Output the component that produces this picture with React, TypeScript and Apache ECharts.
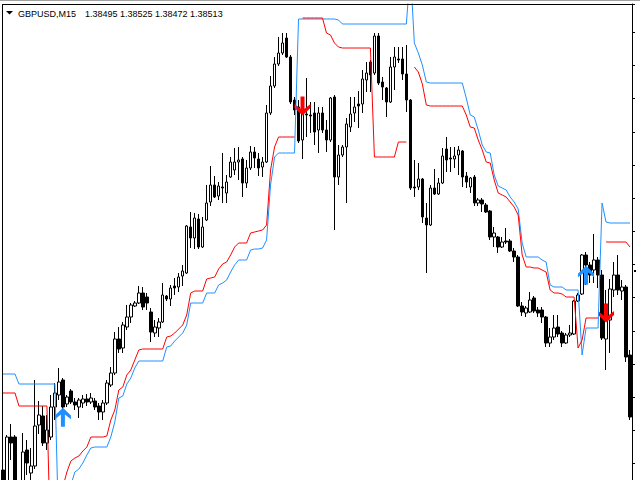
import React, { useEffect, useRef } from "react";
import * as echarts from "echarts";

// Header
const symbolName = "GBPUSD,M15";
const quote = ["1.38495", "1.38525", "1.38472", "1.38513"];

// Candles (GBPUSD M15), one per bar
const open = [
  1.37687, 1.37627, 1.37786, 1.37786, 1.37639, 1.37612, 1.37747, 1.37678, 1.37699, 1.37822,
  1.37849, 1.37768, 1.37786, 1.37876, 1.37912, 1.37957, 1.37885, 1.37924, 1.37891, 1.37876,
  1.37888, 1.37900, 1.37891, 1.37894, 1.37879, 1.37861, 1.37888, 1.37942, 1.37978, 1.38080,
  1.38053, 1.38116, 1.38146, 1.38179, 1.38188, 1.38218, 1.38206, 1.38161, 1.38098, 1.38113,
  1.38131, 1.38209, 1.38200, 1.38239, 1.38236, 1.38269, 1.38278, 1.38416, 1.38383, 1.38440,
  1.38356, 1.38437, 1.38491, 1.38542, 1.38509, 1.38536, 1.38518, 1.38566, 1.38587, 1.38611,
  1.38620, 1.38548, 1.38593, 1.38641, 1.38620, 1.38596, 1.38611, 1.38758, 1.38839, 1.38905,
  1.38938, 1.38983, 1.38926, 1.38797, 1.38776, 1.38677, 1.38755, 1.38752, 1.38758, 1.38707,
  1.38758, 1.38707, 1.38677, 1.38806, 1.38566, 1.38632, 1.38656, 1.38716, 1.38758, 1.38785,
  1.38785, 1.38857, 1.38911, 1.38878, 1.38989, 1.38851, 1.38833, 1.38791, 1.38896, 1.38920,
  1.38920, 1.38875, 1.38797, 1.38536, 1.38536, 1.38560, 1.38443, 1.38422, 1.38533, 1.38515,
  1.38548, 1.38650, 1.38623, 1.38620, 1.38632, 1.38644, 1.38569, 1.38536, 1.38566, 1.38488,
  1.38497, 1.38482, 1.38464, 1.38386, 1.38386, 1.38356, 1.38374, 1.38374, 1.38344, 1.38326,
  1.38179, 1.38158, 1.38161, 1.38203, 1.38167, 1.38167, 1.38146, 1.38068, 1.38086, 1.38116,
  1.38098, 1.38068, 1.38092, 1.38095, 1.38194, 1.38215, 1.38332, 1.38302, 1.38287, 1.38317,
  1.38272, 1.38080, 1.38137, 1.38227, 1.38272, 1.38224, 1.38236, 1.38032,
];
const close = [
  1.37627, 1.37786, 1.37768, 1.37612, 1.37621, 1.37741, 1.37708, 1.37699, 1.37819, 1.37852,
  1.37768, 1.37807, 1.37876, 1.37918, 1.37951, 1.37876, 1.37906, 1.37891, 1.37882, 1.37897,
  1.37900, 1.37891, 1.37903, 1.37876, 1.37861, 1.37888, 1.37948, 1.37978, 1.38080, 1.38050,
  1.38122, 1.38146, 1.38182, 1.38188, 1.38218, 1.38176, 1.38188, 1.38101, 1.38116, 1.38131,
  1.38212, 1.38200, 1.38233, 1.38233, 1.38266, 1.38284, 1.38419, 1.38383, 1.38443, 1.38356,
  1.38416, 1.38488, 1.38542, 1.38506, 1.38539, 1.38533, 1.38551, 1.38611, 1.38611, 1.38617,
  1.38548, 1.38593, 1.38641, 1.38623, 1.38593, 1.38611, 1.38758, 1.38839, 1.38905, 1.38938,
  1.38968, 1.38926, 1.38791, 1.38767, 1.38674, 1.38758, 1.38752, 1.38749, 1.38701, 1.38758,
  1.38707, 1.38677, 1.38803, 1.38566, 1.38632, 1.38656, 1.38725, 1.38755, 1.38776, 1.38779,
  1.38860, 1.38878, 1.38872, 1.38989, 1.38848, 1.38836, 1.38791, 1.38896, 1.38926, 1.38917,
  1.38875, 1.38797, 1.38533, 1.38533, 1.38560, 1.38446, 1.38422, 1.38533, 1.38515, 1.38548,
  1.38629, 1.38617, 1.38620, 1.38629, 1.38647, 1.38566, 1.38551, 1.38563, 1.38488, 1.38497,
  1.38485, 1.38461, 1.38386, 1.38398, 1.38356, 1.38371, 1.38371, 1.38344, 1.38326, 1.38179,
  1.38161, 1.38173, 1.38197, 1.38164, 1.38158, 1.38146, 1.38068, 1.38086, 1.38113, 1.38095,
  1.38068, 1.38092, 1.38098, 1.38194, 1.38212, 1.38332, 1.38302, 1.38272, 1.38317, 1.38272,
  1.38083, 1.38137, 1.38230, 1.38272, 1.38227, 1.38236, 1.38026, 1.37846,
];
const high = [
  1.37693, 1.37792, 1.37825, 1.37792, 1.37648, 1.37798, 1.37777, 1.37753, 1.37957, 1.37894,
  1.37879, 1.37852, 1.37912, 1.37948, 1.37993, 1.37963, 1.37912, 1.37930, 1.37903, 1.37903,
  1.37912, 1.37915, 1.37918, 1.37903, 1.37888, 1.37897, 1.37957, 1.37996, 1.38101, 1.38116,
  1.38131, 1.38182, 1.38188, 1.38194, 1.38239, 1.38236, 1.38218, 1.38173, 1.38137, 1.38143,
  1.38248, 1.38212, 1.38242, 1.38263, 1.38278, 1.38302, 1.38422, 1.38461, 1.38458, 1.38455,
  1.38446, 1.38542, 1.38599, 1.38569, 1.38551, 1.38638, 1.38572, 1.38626, 1.38653, 1.38656,
  1.38626, 1.38617, 1.38659, 1.38656, 1.38638, 1.38626, 1.38782, 1.38869, 1.38926, 1.38986,
  1.38998, 1.38998, 1.38932, 1.38806, 1.38797, 1.38782, 1.38863, 1.38791, 1.38791, 1.38776,
  1.38776, 1.38737, 1.38806, 1.38812, 1.38662, 1.38662, 1.38743, 1.38806, 1.38806, 1.38824,
  1.38887, 1.38911, 1.38917, 1.38998, 1.38998, 1.38866, 1.38836, 1.38926, 1.38956, 1.38956,
  1.38956, 1.38962, 1.38800, 1.38617, 1.38608, 1.38563, 1.38488, 1.38542, 1.38590, 1.38563,
  1.38653, 1.38686, 1.38656, 1.38656, 1.38659, 1.38647, 1.38581, 1.38566, 1.38572, 1.38503,
  1.38503, 1.38488, 1.38467, 1.38416, 1.38389, 1.38386, 1.38413, 1.38380, 1.38353, 1.38332,
  1.38191, 1.38179, 1.38221, 1.38209, 1.38176, 1.38176, 1.38149, 1.38113, 1.38152, 1.38152,
  1.38104, 1.38098, 1.38122, 1.38197, 1.38218, 1.38335, 1.38341, 1.38311, 1.38395, 1.38326,
  1.38287, 1.38227, 1.38260, 1.38311, 1.38332, 1.38257, 1.38242, 1.38047,
];
const low = [
  1.37612, 1.37612, 1.37717, 1.37597, 1.37603, 1.37597, 1.37672, 1.37657, 1.37690, 1.37795,
  1.37759, 1.37747, 1.37777, 1.37837, 1.37897, 1.37867, 1.37876, 1.37885, 1.37867, 1.37843,
  1.37873, 1.37879, 1.37885, 1.37867, 1.37837, 1.37837, 1.37882, 1.37936, 1.37972, 1.38038,
  1.38038, 1.38107, 1.38128, 1.38176, 1.38185, 1.38167, 1.38167, 1.38071, 1.38086, 1.38086,
  1.38128, 1.38194, 1.38179, 1.38212, 1.38221, 1.38239, 1.38275, 1.38353, 1.38350, 1.38350,
  1.38353, 1.38434, 1.38479, 1.38503, 1.38497, 1.38488, 1.38488, 1.38563, 1.38572, 1.38557,
  1.38506, 1.38533, 1.38587, 1.38593, 1.38569, 1.38566, 1.38608, 1.38752, 1.38833, 1.38899,
  1.38932, 1.38923, 1.38785, 1.38752, 1.38668, 1.38620, 1.38686, 1.38698, 1.38662, 1.38638,
  1.38698, 1.38641, 1.38671, 1.38407, 1.38542, 1.38626, 1.38488, 1.38701, 1.38731, 1.38713,
  1.38758, 1.38821, 1.38821, 1.38872, 1.38842, 1.38797, 1.38746, 1.38788, 1.38827, 1.38908,
  1.38857, 1.38761, 1.38527, 1.38506, 1.38527, 1.38428, 1.38278, 1.38419, 1.38512, 1.38512,
  1.38545, 1.38581, 1.38581, 1.38593, 1.38572, 1.38536, 1.38533, 1.38518, 1.38479, 1.38479,
  1.38461, 1.38458, 1.38377, 1.38356, 1.38338, 1.38353, 1.38365, 1.38341, 1.38311, 1.38176,
  1.38149, 1.38146, 1.38158, 1.38158, 1.38146, 1.38128, 1.38056, 1.38056, 1.38077, 1.38086,
  1.38056, 1.38065, 1.38086, 1.38092, 1.38191, 1.38212, 1.38242, 1.38248, 1.38248, 1.38233,
  1.38077, 1.37987, 1.38038, 1.38206, 1.38212, 1.38197, 1.38011, 1.37837,
];

// Indicator lines (null = no value)
const redLine = [
  1.37918, 1.37918, 1.37918, 1.37918, 1.37879, 1.37879, 1.37879, 1.37879, 1.37879, 1.37879,
  1.37879, 1.37879, 1.37417, 1.37417, 1.37537, 1.37636, 1.37681, 1.37714, 1.37723, 1.37729,
  1.37744, 1.37756, 1.37786, 1.37786, 1.37786, 1.37786, 1.37789, 1.37837, 1.37867, 1.37927,
  1.37936, 1.37972, 1.37987, 1.38017, 1.38047, 1.38050, 1.38050, 1.38050, 1.38050, 1.38050,
  1.38050, 1.38086, 1.38089, 1.38098, 1.38110, 1.38122, 1.38152, 1.38218, 1.38224, 1.38224,
  1.38224, 1.38260, 1.38263, 1.38266, 1.38290, 1.38305, 1.38311, 1.38332, 1.38356, 1.38368,
  1.38368, 1.38368, 1.38398, 1.38401, 1.38404, 1.38407, 1.38422, 1.38587, 1.38656, 1.38686,
  1.38686, 1.38686, 1.38686, 1.38686, null, 1.39043, 1.39043, 1.39043, 1.39043, 1.39043,
  1.39043, 1.38998, 1.38992, 1.38968, 1.38956, 1.38953, 1.38953, 1.38953, 1.38953, 1.38953,
  1.38953, 1.38953, 1.38953, 1.38626, 1.38626, 1.38626, 1.38626, 1.38626, 1.38626, 1.38671,
  1.38671, 1.38671, null, 1.38896, 1.38881, 1.38845, 1.38782, 1.38779, 1.38779, 1.38779,
  1.38779, 1.38779, 1.38779, 1.38779, 1.38779, 1.38779, 1.38752, 1.38716, 1.38713, 1.38677,
  1.38647, 1.38611, 1.38608, 1.38557, 1.38518, 1.38512, 1.38506, 1.38491, 1.38476, 1.38452,
  1.38332, 1.38296, 1.38296, 1.38293, 1.38293, 1.38287, 1.38281, 1.38227, 1.38218, 1.38218,
  1.38215, 1.38206, 1.38206, 1.38206, 1.38053, 1.38077, 1.38143, 1.38143, 1.38143, 1.38143,
  null, 1.38371, 1.38371, 1.38371, 1.38371, 1.38371, 1.38371, 1.38356,
];
const blueLine = [
  1.37975, 1.37975, 1.37975, 1.37975, 1.37945, 1.37945, 1.37945, 1.37945, 1.37945, 1.37945,
  1.37945, 1.37945, 1.37945, 1.37945, 1.37477, 1.37567, 1.37612, 1.37642, 1.37681, 1.37690,
  1.37708, 1.37732, 1.37753, 1.37756, 1.37756, 1.37756, 1.37756, 1.37786, 1.37831, 1.37903,
  1.37909, 1.37945, 1.37963, 1.37993, 1.38014, 1.38014, 1.38014, 1.38014, 1.38014, 1.38014,
  1.38014, 1.38056, 1.38059, 1.38074, 1.38086, 1.38098, 1.38122, 1.38188, 1.38188, 1.38188,
  1.38188, 1.38218, 1.38218, 1.38218, 1.38242, 1.38248, 1.38257, 1.38281, 1.38302, 1.38317,
  1.38317, 1.38317, 1.38347, 1.38350, 1.38350, 1.38353, 1.38377, 1.38542, 1.38626, 1.38638,
  1.38638, 1.38638, 1.38638, 1.38638, 1.39040, 1.39040, 1.39040, 1.39040, 1.39040, 1.39040,
  1.39040, 1.39040, 1.39040, 1.39040, 1.39037, 1.39025, 1.39025, 1.39025, 1.39025, 1.39025,
  1.39025, 1.39025, 1.39025, 1.39025, 1.39025, 1.39025, 1.39025, 1.39025, 1.39025, 1.39025,
  1.39025, 1.39025, 1.39187, 1.38968, 1.38938, 1.38902, 1.38851, 1.38848, 1.38848, 1.38848,
  1.38848, 1.38848, 1.38848, 1.38848, 1.38848, 1.38848, 1.38803, 1.38752, 1.38746, 1.38707,
  1.38662, 1.38641, 1.38638, 1.38572, 1.38539, 1.38533, 1.38527, 1.38506, 1.38491, 1.38470,
  1.38368, 1.38326, 1.38326, 1.38326, 1.38326, 1.38317, 1.38311, 1.38242, 1.38236, 1.38236,
  1.38236, 1.38227, 1.38227, 1.38227, 1.38227, 1.38032, 1.38113, 1.38113, 1.38113, 1.38113,
  1.38488, 1.38431, 1.38428, 1.38428, 1.38428, 1.38428, 1.38428, 1.38428,
];

// Signal arrows: [bar index, price]
const buyArrows = [
  [15, 1.37845],
  [146, 1.38271],
];
const sellArrows = [
  [75, 1.38779],
  [151, 1.38158],
];

// Price scale (no labels visible in the picture)
const priceTop = 1.39085;
const priceBottom = 1.376075;
const tickMin = 1.376;
const tickMax = 1.390857;
const tickStep = 0.001;

const BLUE = "#1E90FF";
const RED = "#FF0000";
const UP_ARROW = "path://M8,0 L16,8 L16,12 L10,7 L10,20 L6,20 L6,7 L0,12 L0,8 Z";
const DOWN_ARROW = "path://M8,20 L16,12 L16,8 L10,13 L10,0 L6,0 L6,13 L0,8 L0,12 Z";

export default function App() {
  const ref = useRef<HTMLDivElement>(null);

  useEffect(() => {
    const el = ref.current;
    if (!el) return;
    const chart = echarts.init(el, undefined, { renderer: "svg" });
    const cats = open.map((_, i) => String(i));
    const ohlc = open.map((o, i) => [o, close[i], low[i], high[i]]);

    chart.setOption({
      animation: false,
      backgroundColor: "#ffffff",
      grid: { left: 1, right: 8, top: 4, bottom: 3.5, containLabel: false },
      xAxis: {
        type: "category",
        data: cats,
        boundaryGap: true,
        show: false,
      },
      yAxis: [
        {
          type: "value",
          min: priceBottom,
          max: priceTop,
          show: false,
          position: "left",
        },
        {
          type: "value",
          min: tickMin,
          max: tickMax,
          interval: tickStep,
          position: "right",
          axisLine: { show: true, lineStyle: { color: "#000000", width: 1 } },
          axisTick: { show: true, inside: false, length: 3, lineStyle: { color: "#000000" } },
          axisLabel: { show: false },
          splitLine: { show: false },
        },
      ],
      series: [
        {
          type: "candlestick",
          yAxisIndex: 0,
          data: ohlc,
          barWidth: 3,
          itemStyle: {
            color: "#ffffff",
            color0: "#000000",
            borderColor: "#000000",
            borderColor0: "#000000",
            borderWidth: 1,
          },
          silent: true,
        },
        {
          type: "line",
          yAxisIndex: 0,
          data: blueLine,
          symbol: "none",
          connectNulls: false,
          lineStyle: { color: BLUE, width: 1 },
          silent: true,
        },
        {
          type: "line",
          yAxisIndex: 0,
          data: redLine,
          symbol: "none",
          connectNulls: false,
          lineStyle: { color: RED, width: 1 },
          silent: true,
        },
        {
          type: "scatter",
          yAxisIndex: 0,
          data: buyArrows,
          symbol: UP_ARROW,
          symbolSize: [16, 19],
          itemStyle: { color: BLUE, opacity: 1 },
          silent: true,
        },
        {
          type: "scatter",
          yAxisIndex: 0,
          data: sellArrows,
          symbol: DOWN_ARROW,
          symbolSize: [16, 19],
          itemStyle: { color: RED, opacity: 1 },
          silent: true,
        },
      ],
      graphic: [
        { type: "rect", silent: true, z: 100, shape: { x: 0, y: 0, width: 640, height: 1 }, style: { fill: "#a0a0a0" } },
        { type: "line", silent: true, z: 100, shape: { x1: 2, y1: 4.5, x2: 633, y2: 4.5 }, style: { stroke: "#000000", lineWidth: 1 } },
        { type: "line", silent: true, z: 100, shape: { x1: 2.5, y1: 4, x2: 2.5, y2: 500 }, style: { stroke: "#000000", lineWidth: 1 } },
        { type: "polygon", silent: true, z: 100, shape: { points: [[6, 11], [13, 11], [9.5, 14.5]] }, style: { fill: "#000000" } },
        {
          type: "text",
          silent: true,
          z: 100,
          x: 18,
          y: 13.9,
          style: {
            text: symbolName,
            fill: "#000000",
            font: "9px 'Liberation Sans', Arial, sans-serif",
            verticalAlign: "middle",
          },
        },
        {
          type: "text",
          silent: true,
          z: 100,
          x: 85,
          y: 13.9,
          style: {
            text: quote.join(" "),
            fill: "#000000",
            font: "9px 'Liberation Sans', Arial, sans-serif",
            verticalAlign: "middle",
          },
        },
        { type: "rect", silent: true, z: 100, shape: { x: 634, y: 270, width: 2, height: 2 }, style: { fill: "#000000" } },
      ],
    });

    return () => {
      chart.dispose();
    };
  }, []);

  return (
    <div
      ref={ref}
      style={{ position: "fixed", left: 0, top: 0, width: 640, height: 500, background: "#ffffff" }}
    />
  );
}
